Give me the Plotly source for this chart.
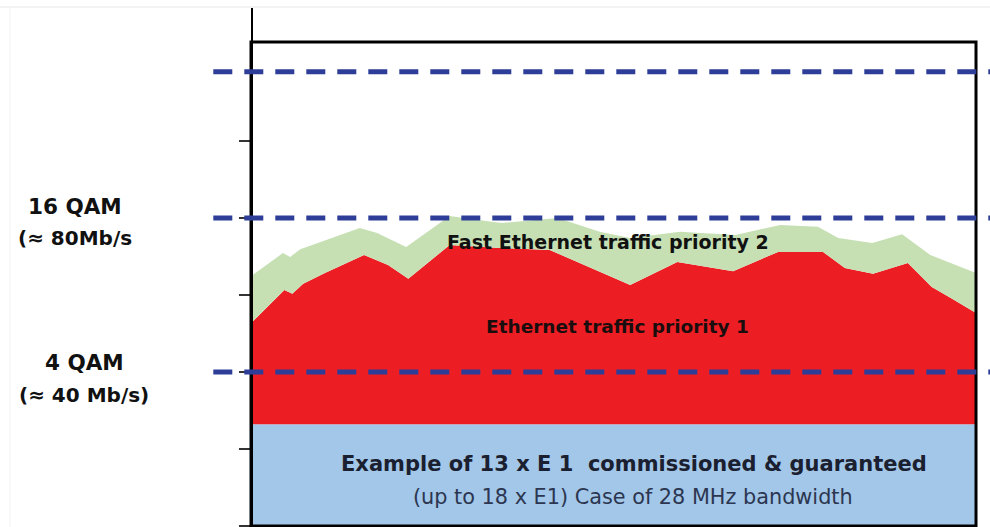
import plotly.graph_objects as go

# ---------------- data (Mb/s vs. time index 0..100) ----------------
e1_level = 26.4                      # 13 x E1 guaranteed capacity
qam_levels = [40, 80, 118]           # modulation capacity levels
tick_values = [0, 20, 40, 60, 80, 100]

red_x = [0, 4.6, 5.7, 7.2, 10.2, 15.6, 18.9, 21.7, 27.4, 34.3, 41.2, 52.3,
         58.8, 66.5, 72.7, 78.9, 81.9, 85.8, 90.6, 93.9, 96.7, 100]
red_y = [52.7, 61.3, 60.3, 62.9, 65.7, 70.4, 67.8, 64.2, 73.0, 72.2, 71.7, 62.6,
         68.6, 66.2, 71.2, 71.2, 67.0, 65.5, 68.3, 62.1, 59.0, 55.3]

green_x = [0, 4.4, 5.4, 6.8, 15.0, 17.4, 21.4, 27.4, 33.2, 34.6, 42.3, 48.1,
           52.3, 59.2, 66.8, 73.0, 78.2, 81.0, 85.7, 89.8, 93.7, 100]
green_y = [64.9, 70.9, 69.9, 71.9, 77.4, 76.1, 72.5, 80.5, 79.0, 78.7, 80.0, 76.4,
           74.8, 76.4, 75.6, 78.2, 77.7, 74.8, 73.5, 75.8, 70.4, 65.7]

e1_x = [0, 100]
e1_y = [e1_level, e1_level]

# ---------------- styling ----------------
W, H = 990, 527
BLUE_FILL = "rgb(162,199,233)"
RED_FILL = "rgb(237,29,36)"
GREEN_FILL = "rgb(198,224,180)"
DASH_COLOR = "rgb(46,62,152)"
FONT = "DejaVu Sans"

X_RANGE = [-34.62, 101.93]
Y_RANGE = [-0.26, 134.55]
BOX_TOP = 125.7

fig = go.Figure()
fig.add_trace(go.Scatter(x=e1_x, y=e1_y, mode="lines", line=dict(width=0),
                         fill="tozeroy", fillcolor=BLUE_FILL, hoverinfo="skip"))
fig.add_trace(go.Scatter(x=red_x, y=red_y, mode="lines", line=dict(width=0),
                         fill="tonexty", fillcolor=RED_FILL, hoverinfo="skip"))
fig.add_trace(go.Scatter(x=green_x, y=green_y, mode="lines", line=dict(width=0),
                         fill="tonexty", fillcolor=GREEN_FILL, hoverinfo="skip"))

shapes = []
# frame box
shapes.append(dict(type="rect", xref="x", yref="y", x0=0, x1=100, y0=0, y1=BOX_TOP,
                   line=dict(color="black", width=3), fillcolor="rgba(0,0,0,0)"))
# dashed capacity levels
for lv in qam_levels:
    shapes.append(dict(type="line", xref="x", yref="y", x0=-5.2, x1=103, y0=lv, y1=lv,
                       line=dict(color=DASH_COLOR, width=5, dash="19px,12px")))
# faint scan border lines
shapes.append(dict(type="line", xref="paper", yref="paper", x0=0, x1=1,
                   y0=1 - 7 / H, y1=1 - 7 / H, line=dict(color="#e8e8e8", width=1)))
shapes.append(dict(type="line", xref="paper", yref="paper", x0=10 / W, x1=10 / W,
                   y0=0, y1=1 - 7 / H, line=dict(color="#f3f3f3", width=1)))

def ann(text, px, py, size, color, bold=True):
    return dict(text=f"<b>{text}</b>" if bold else text, xref="paper", yref="paper",
                x=px / W, y=1 - py / H, xanchor="center", yanchor="middle",
                showarrow=False, font=dict(family=FONT, size=size, color=color))

annotations = [
    ann("16 QAM", 75, 206, 21.5, "#111111"),
    ann("(≈ 80Mb/s", 75, 238, 20, "#111111"),
    ann("4 QAM", 84, 362, 21.5, "#111111"),
    ann("(≈ 40 Mb/s)", 84, 395, 20, "#111111"),
    ann("Fast Ethernet traffic priority 2", 608, 242, 19, "#111111"),
    ann("Ethernet traffic priority 1", 617, 326, 18.5, "#1a0d0d"),
    ann("Example of 13 x E 1\u00a0 commissioned &amp; guaranteed", 634, 464, 21, "#1b2030"),
    ann("(up to 18 x E1) Case of 28 MHz bandwidth", 633, 497, 20.8, "#2c3650", bold=False),
]

fig.update_layout(
    width=W, height=H,
    margin=dict(l=0, r=0, t=0, b=0),
    paper_bgcolor="white", plot_bgcolor="white",
    showlegend=False,
    shapes=shapes,
    annotations=annotations,
    xaxis=dict(range=X_RANGE, visible=False, fixedrange=True),
    yaxis=dict(range=Y_RANGE, domain=[0, (H - 8) / H], anchor="free", position=251 / W,
               showline=True, linecolor="black", linewidth=1.5,
               ticks="outside", ticklen=12, tickwidth=1.5, tickcolor="#333333",
               tickvals=tick_values, showticklabels=False,
               showgrid=False, zeroline=False, fixedrange=True),
)

fig.write_html("out.html", config={"displayModeBar": False, "staticPlot": True},
               post_script="document.body.style.margin='0';document.body.style.overflow='hidden';")
